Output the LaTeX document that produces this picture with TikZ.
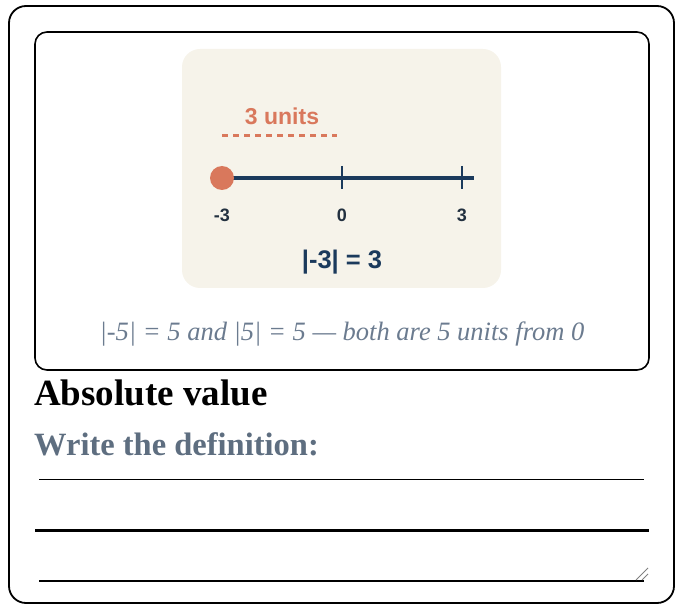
\documentclass[tikz,border=0pt]{standalone}
\usepackage{fontspec}
\setmainfont{Liberation Serif}
\setsansfont{Liberation Sans}
\usetikzlibrary{positioning, calc}

\definecolor{cardbeige}{HTML}{F6F3EA}
\definecolor{linenavy}{HTML}{1B3A5C}
\definecolor{pointorange}{HTML}{D9785C}
\definecolor{ticklabel}{HTML}{22303F}
\definecolor{captiongray}{HTML}{6B7B8F}
\definecolor{promptgray}{HTML}{5E6E80}

\begin{document}
\begin{tikzpicture}[
    x=1pt, y=-1pt,
    every node/.style={inner sep=0pt},
    outerframe/.style={draw=black, line width=1.8pt, rounded corners=17pt},
    card/.style={draw=black, line width=1.6pt, rounded corners=12pt},
    panel/.style={fill=cardbeige, rounded corners=18pt},
    numline/.style={draw=linenavy, line width=4pt},
    tickmark/.style={draw=linenavy, line width=2.5pt},
    gapline/.style={draw=pointorange, line width=3pt, dash pattern=on 6pt off 5pt},
    endpoint/.style={circle, fill=pointorange, minimum size=24pt},
    numlabel/.style={font=\sffamily\bfseries\fontsize{18}{20}\selectfont, text=ticklabel, anchor=base},
    writeline/.style={draw=black}
]
\useasboundingbox (0,0) rectangle (678,604);

% Frames
\draw[outerframe] (9,6) rectangle (674,603);
\draw[card] (35,32) rectangle (649,370);
\fill[panel] (182,49) rectangle (501,288);

% Number line
\coordinate (start) at (222,178);
\coordinate (end) at (474,178);
\coordinate (zero) at (342,178);
\coordinate (three) at (462,178);
\draw[numline] (start) -- (end);
\draw[tickmark] ($(zero)+(0,-12)$) -- ($(zero)+(0,11)$);
\draw[tickmark] ($(three)+(0,-12)$) -- ($(three)+(0,11)$);
\node[endpoint] (dot) at (start) {};

% Distance
\coordinate (dstart) at (222,136);
\coordinate (dend) at (337,136);
\draw[gapline] (dstart) -- (dend);
\node[font=\sffamily\bfseries\fontsize{23}{26}\selectfont, text=pointorange, anchor=base] (units) at (282,125) {3 units};

% Labels
\node[numlabel] (lminus) at (222,222) {-3};
\node[numlabel] (lzero) at (342,222) {0};
\node[numlabel] (lthree) at (462,222) {3};
\node[font=\sffamily\bfseries\fontsize{25.5}{28}\selectfont, text=linenavy, anchor=base] (result) at (342,269) {|-3| = 3};

\node[font=\itshape\fontsize{26.5}{30}\selectfont, text=captiongray, anchor=base] (caption) at (342,341) {|-5| = 5 and |5| = 5 — both are 5 units from 0};

% Prompt
\node[font=\bfseries\fontsize{37}{40}\selectfont, anchor=base west] (title) at (34,405) {Absolute value};
\node[font=\bfseries\fontsize{32.5}{36}\selectfont, text=promptgray, anchor=base west] (prompt) at (34,455) {Write the definition:};

% Answer lines
\draw[writeline, line width=1pt] (39,479) -- (644,479);
\draw[writeline, line width=3pt] (35,530) -- (649,530);
\draw[writeline, line width=2pt] (39,581) -- (644,581);
\draw[gray, line width=0.8pt] (636,580) -- (648,568);
\draw[gray, line width=0.8pt] (642,580) -- (648,574);

\end{tikzpicture}
\end{document}
